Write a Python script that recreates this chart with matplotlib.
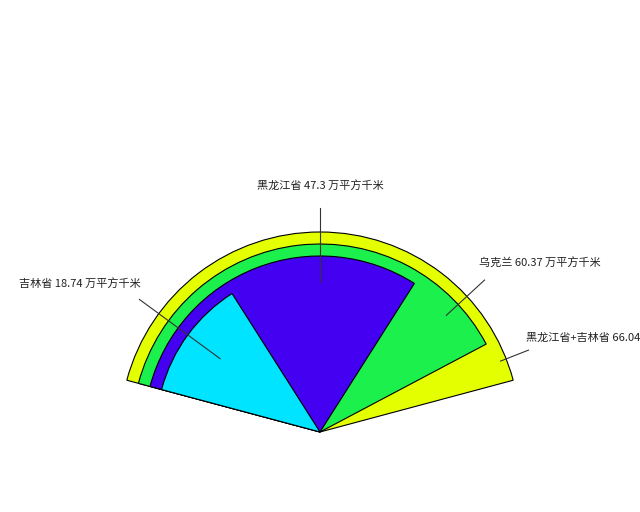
"""Fan plot of land areas (万平方千米)."""

import math

import matplotlib

matplotlib.use("Agg")
import matplotlib.pyplot as plt
from matplotlib.patches import Wedge

plt.rcParams["font.family"] = ["Noto Sans CJK SC", "DejaVu Sans"]

# data
names = ["黑龙江省+吉林省", "乌克兰", "黑龙江省", "吉林省"]
areas = [66.04, 60.37, 47.3, 18.74]
# the first label runs off the right edge in the original, only the number shows
units = ["", "万平方千米", "万平方千米", "万平方千米"]

# style
COLORS = ["#e4ff00", "#1cf04c", "#4400f0", "#00e4ff"]
START = 165.0          # degrees, common start edge
MAX_SPAN = 150.0       # span of the largest sector
SHRINK = 0.06          # radius step between sectors
LINE_OUT = 1.12        # label line outer radius
LINE_IN = [0.97, 0.86, 0.75, 0.62]
LABEL_R = 1.2

fig = plt.figure(figsize=(6.4, 5.12), dpi=100)
ax = fig.add_axes([0, 0, 1, 1])
ax.set_xlim(-1.6, 1.6)
ax.set_ylim(-0.4, 2.16)
ax.set_aspect("equal")
ax.axis("off")

spans = [a / max(areas) * MAX_SPAN for a in areas]
ends = [START - s for s in spans]

for i, (span, col) in enumerate(zip(spans, COLORS)):
    r = 1.0 - i * SHRINK
    ax.add_patch(Wedge((0, 0), r, START - span, START, facecolor=col,
                       edgecolor="black", linewidth=0.8))

for i, (name, area, unit) in enumerate(zip(names, areas, units)):
    # middle of the part of this sector that stays visible
    upper = ends[i + 1] if i + 1 < len(ends) else START
    mid = math.radians((ends[i] + upper) / 2)
    c, s = math.cos(mid), math.sin(mid)
    ax.plot([LINE_OUT * c, LINE_IN[i] * c], [LINE_OUT * s, LINE_IN[i] * s],
            color="#333333", linewidth=0.8)
    if c > 0.1:
        ha, dx = "left", -0.085
    elif c < -0.1:
        ha, dx = "right", 0.07
    else:
        ha, dx = "center", 0.0
    text = f"{name} {area} {unit}".strip()
    ax.text(LABEL_R * c + dx, LABEL_R * s + 0.035, text,
            ha=ha, va="center", fontsize=8, color="#222222")

fig.savefig("out.png", dpi=100)
